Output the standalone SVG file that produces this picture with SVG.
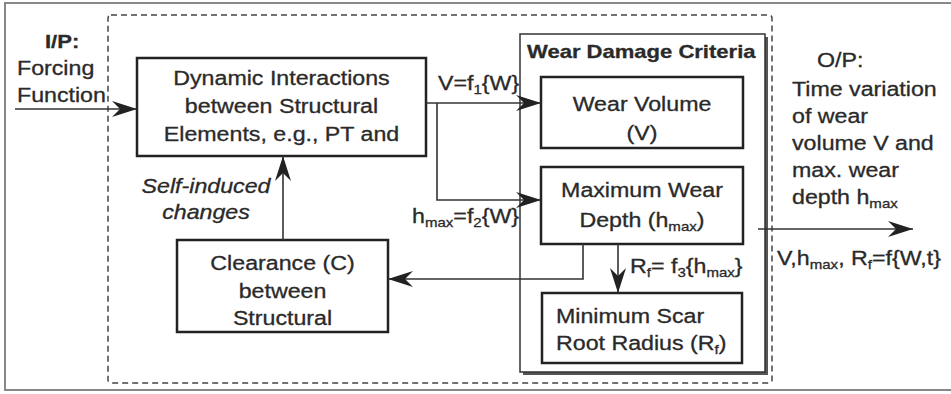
<svg xmlns="http://www.w3.org/2000/svg" width="951" height="394" viewBox="0 0 951 394">
<defs>
<style>
.t{font-family:"Liberation Sans",Arial,sans-serif;font-size:20px;fill:#2a2a2a;stroke:#2a2a2a;stroke-width:0.3}
.b{font-weight:bold;font-size:19px}
.i{font-style:italic}
.c{text-anchor:middle}
.box{fill:#fff;stroke:#222;stroke-width:2.5}
.ln{fill:none;stroke:#333;stroke-width:1.6}
.sub{font-size:13px}
</style>
<marker id="ah" markerUnits="userSpaceOnUse" markerWidth="30" markerHeight="20" viewBox="-26 -10 30 20" refX="0" refY="0" orient="auto">
<path d="M0,0 L-25,-8 L-17,0 L-25,8 Z" fill="#222"/>
</marker>
</defs>
<rect x="0" y="0" width="951" height="394" fill="#fff"/>
<rect id="frame" x="5" y="3" width="960" height="387" fill="none" stroke="#888" stroke-width="2"/>
<rect id="system" x="108" y="15" width="664" height="368" rx="3" fill="none" stroke="#444" stroke-width="1.5" stroke-dasharray="6,4"/>

<g id="input">
<g transform="translate(45 0) scale(1.16 1)"><text class="t b" x="0" y="48">I/P:</text></g>
<g transform="translate(17 0) scale(1.16 1)">
<text class="t" x="0" y="75">Forcing</text>
<text class="t" x="0" y="102">Function</text>
</g>
</g>

<g id="dynamic">
<rect class="box" x="137" y="58" width="289" height="98"/>
<g transform="translate(281.5 0) scale(1.16 1)">
<text class="t c" x="0" y="85">Dynamic Interactions</text>
<text class="t c" x="0" y="113">between Structural</text>
<text class="t c" x="0" y="141">Elements, e.g., PT and</text>
</g>
</g>

<g id="clearance">
<rect class="box" x="177" y="240" width="211" height="92"/>
<g transform="translate(282.5 0) scale(1.16 1)">
<text class="t c" x="0" y="270">Clearance (C)</text>
<text class="t c" x="0" y="298">between</text>
<text class="t c" x="0" y="325">Structural</text>
</g>
</g>

<g id="selfinduced">
<g transform="translate(206 0) scale(1.16 1)">
<text class="t i c" x="0" y="193">Self-induced</text>
<text class="t i c" x="0" y="219">changes</text>
</g>
</g>

<g id="criteria">
<rect x="523" y="37" width="245" height="338" fill="#555"/>
<rect x="520" y="34" width="245" height="338" fill="#fff" stroke="#333" stroke-width="1.5"/>
<g transform="translate(527 0) scale(1.16 1)"><text class="t b" x="0" y="58">Wear Damage Criteria</text></g>
</g>

<g id="volume">
<rect class="box" x="541" y="77" width="202" height="71"/>
<g transform="translate(642 0) scale(1.16 1)">
<text class="t c" x="0" y="111">Wear Volume</text>
<text class="t c" x="0" y="140">(V)</text>
</g>
</g>

<g id="depth">
<rect class="box" x="541" y="167" width="202" height="77"/>
<g transform="translate(642 0) scale(1.16 1)">
<text class="t c" x="0" y="197">Maximum Wear</text>
<text class="t c" x="0" y="227">Depth (h<tspan class="sub" dy="4">max</tspan><tspan dy="-4">)</tspan></text>
</g>
</g>

<g id="scar">
<rect class="box" x="542" y="293" width="200" height="70"/>
<g transform="translate(556 0) scale(1.16 1)">
<text class="t" x="0" y="323">Minimum Scar</text>
<text class="t" x="0" y="350">Root Radius (R<tspan class="sub" dy="4">f</tspan><tspan dy="-4">)</tspan></text>
</g>
</g>

<g id="output">
<g transform="translate(817 0) scale(1.16 1)"><text class="t" x="0" y="67">O/P:</text></g>
<g transform="translate(792 0) scale(1.16 1)">
<text class="t" x="0" y="96">Time variation</text>
<text class="t" x="0" y="123">of wear</text>
<text class="t" x="0" y="150">volume V and</text>
<text class="t" x="0" y="177">max. wear</text>
<text class="t" x="0" y="204">depth h<tspan class="sub" dy="4">max</tspan></text>
</g>
</g>

<g id="connectors">
<path class="ln" d="M15,109 H137" marker-end="url(#ah)"/>
<path class="ln" d="M426,103 H541" marker-end="url(#ah)"/>
<path class="ln" d="M437,103 V200 H541" marker-end="url(#ah)"/>
<path class="ln" d="M583,244 V279 H388" marker-end="url(#ah)"/>
<path class="ln" d="M283,240 V156" marker-end="url(#ah)"/>
<path class="ln" d="M618,244 V293" marker-end="url(#ah)"/>
<path class="ln" d="M758,229 H913" marker-end="url(#ah)"/>
<g transform="translate(438 0) scale(1.16 1)"><text class="t" x="0" y="90">V=f<tspan class="sub" dy="4">1</tspan><tspan dy="-4">{W}</tspan></text></g>
<g transform="translate(412 0) scale(1.16 1)"><text class="t" x="0" y="223">h<tspan class="sub" dy="4">max</tspan><tspan dy="-4">=f</tspan><tspan class="sub" dy="4">2</tspan><tspan dy="-4">{W}</tspan></text></g>
<g transform="translate(630 0) scale(1.16 1)"><text class="t" x="0" y="273">R<tspan class="sub" dy="4">f</tspan><tspan dy="-4">= f</tspan><tspan class="sub" dy="4">3</tspan><tspan dy="-4">{h</tspan><tspan class="sub" dy="4">max</tspan><tspan dy="-4">}</tspan></text></g>
<g transform="translate(777 0) scale(1.16 1)"><text class="t" x="0" y="265">V,h<tspan class="sub" dy="4">max</tspan><tspan dy="-4">, R</tspan><tspan class="sub" dy="4">f</tspan><tspan dy="-4">=f{W,t}</tspan></text></g>
</g>
</svg>
